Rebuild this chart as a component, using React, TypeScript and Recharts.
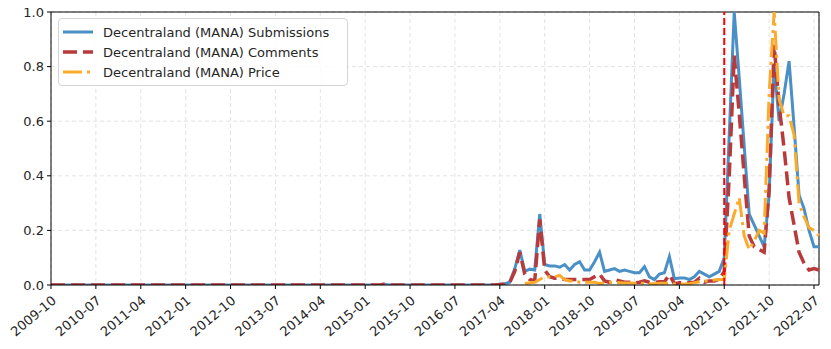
import React from "react";
import {
  LineChart,
  Line,
  XAxis,
  YAxis,
  CartesianGrid,
  ReferenceLine,
} from "recharts";

// monthly index, 0 = 2009-10
const tickMonths = [0, 9, 18, 27, 36, 45, 54, 63, 72, 81, 90, 99, 108, 117, 126, 135, 144, 153];
const tickLabels = [
  "2009-10", "2010-07", "2011-04", "2012-01", "2012-10", "2013-07", "2014-04", "2015-01", "2015-10",
  "2016-07", "2017-04", "2018-01", "2018-10", "2019-07", "2020-04", "2021-01", "2021-10", "2022-07",
];
const yTicks = [0, 0.2, 0.4, 0.6, 0.8, 1.0];

// 2009-10 .. 2022-08 (155 months)
const submissions = [
  0, 0, 0, 0, 0, 0, 0, 0, 0, 0, 0, 0, 0, 0, 0, 0, 0, 0,
  0, 0, 0, 0, 0, 0, 0, 0, 0, 0, 0, 0, 0, 0, 0, 0, 0, 0,
  0, 0, 0, 0, 0, 0, 0, 0, 0, 0, 0, 0, 0, 0, 0, 0, 0, 0,
  0, 0, 0, 0, 0, 0, 0, 0, 0, 0, 0, 0, 0, 0.002, 0, 0, 0, 0,
  0, 0, 0, 0, 0, 0, 0, 0, 0, 0, 0, 0, 0, 0, 0, 0, 0, 0,
  0.003, 0.005, 0.01, 0.06, 0.128, 0.05, 0.058, 0.055, 0.26, 0.075, 0.07, 0.07, 0.065, 0.075, 0.055, 0.075, 0.085, 0.055,
  0.055, 0.085, 0.12, 0.05, 0.055, 0.06, 0.05, 0.055, 0.05, 0.045, 0.045, 0.067, 0.03, 0.02, 0.04, 0.045, 0.104, 0.023,
  0.026, 0.026, 0.02, 0.03, 0.05, 0.04, 0.03, 0.04, 0.05, 0.1, 0.55, 1.0, 0.76, 0.51, 0.26, 0.22, 0.18, 0.14,
  0.33, 0.81, 0.6, 0.7, 0.82, 0.58, 0.33, 0.28, 0.2, 0.14, 0.14,
];

const comments = [
  0, 0, 0, 0, 0, 0, 0, 0, 0, 0, 0, 0, 0, 0, 0, 0, 0, 0,
  0, 0, 0, 0, 0, 0, 0, 0, 0, 0, 0, 0, 0, 0, 0, 0, 0, 0,
  0, 0, 0, 0, 0, 0, 0, 0, 0, 0, 0, 0, 0, 0, 0, 0, 0, 0,
  0, 0, 0, 0, 0, 0, 0, 0, 0, 0, 0, 0, 0, 0.004, 0, 0, 0, 0,
  0, 0, 0, 0, 0, 0, 0, 0, 0, 0, 0, 0, 0, 0, 0, 0, 0, 0,
  0.002, 0.003, 0.01, 0.05, 0.12, 0.04, 0.02, 0.015, 0.24, 0.055, 0.03, 0.025, 0.025, 0.02, 0.02, 0.02, 0.02, 0.02,
  0.02, 0.03, 0.04, 0.015, 0.01, 0.02, 0.015, 0.01, 0.01, 0.008, 0.01, 0.015, 0.01, 0.01, 0.012, 0.012, 0.037, 0.005,
  0.008, 0.008, 0.008, 0.01, 0.025, 0.01, 0.015, 0.015, 0.02, 0.05, 0.4, 0.84, 0.63, 0.4, 0.18, 0.14, 0.13, 0.12,
  0.35, 0.88, 0.66, 0.5, 0.32, 0.22, 0.12, 0.08, 0.055, 0.06, 0.055,
];

const N = null;
const price = [
  N, N, N, N, N, N, N, N, N, N, N, N, N, N, N, N, N, N,
  N, N, N, N, N, N, N, N, N, N, N, N, N, N, N, N, N, N,
  N, N, N, N, N, N, N, N, N, N, N, N, N, N, N, N, N, N,
  N, N, N, N, N, N, N, N, N, N, N, N, N, N, N, N, N, N,
  N, N, N, N, N, N, N, N, N, N, N, N, N, N, N, N, N, N,
  N, N, N, N, N, 0.005, 0.008, 0.01, 0.02, 0.03, 0.03, 0.03, 0.035, 0.02, 0.015, 0.015, 0.01, 0.01,
  0.01, 0.01, 0.006, 0.006, 0.01, 0.008, 0.008, 0.007, 0.007, 0.006, 0.006, 0.006, 0.005, 0.005, 0.006, 0.006, 0.006, 0.004,
  0.003, 0.004, 0.005, 0.008, 0.012, 0.015, 0.015, 0.018, 0.02, 0.02, 0.2, 0.26, 0.32, 0.18, 0.13, 0.16, 0.2, 0.19,
  0.7, 1.0, 0.68, 0.62, 0.62, 0.55, 0.3, 0.25, 0.21, 0.2, 0.18,
];

const data = submissions.map((v, i) => ({
  m: i,
  submissions: v,
  comments: comments[i],
  price: price[i],
}));

const FONT = "'DejaVu Sans', sans-serif";
const TEXT = "#262626";

const series = [
  { name: "Decentraland (MANA) Submissions", color: "#4a90c6", dash: undefined, width: 3 },
  { name: "Decentraland (MANA) Comments", color: "#b83a3a", dash: "14 6", width: 3.5 },
  { name: "Decentraland (MANA) Price", color: "#fbab2c", dash: "19 5 3 5", width: 3 },
];

const XTick = (props: any) => {
  const { x, y, payload } = props;
  const idx = tickMonths.indexOf(payload.value);
  return (
    <g transform={`translate(${x + 6},${y + 11})`}>
      <text
        textAnchor="end"
        transform="rotate(-40)"
        fontFamily={FONT}
        fontSize={13}
        fill={TEXT}
      >
        {tickLabels[idx]}
      </text>
    </g>
  );
};

const LegendBox = () => (
  <div
    style={{
      position: "absolute",
      left: 58,
      top: 18,
      border: "1px solid #d4d4d4",
      borderRadius: 4,
      background: "rgba(255,255,255,0.85)",
      padding: "3px 8px 3px 4px",
      fontFamily: FONT,
      fontSize: 13,
      color: TEXT,
      width: 276,
      boxSizing: "content-box",
    }}
  >
    {series.map((s) => (
      <div key={s.name} style={{ display: "flex", alignItems: "center", height: 20 }}>
        <svg width={40} height={20} style={{ flex: "none" }}>
          <line
            x1={0}
            x2={30}
            y1={10}
            y2={10}
            stroke={s.color}
            strokeWidth={s.width}
            strokeDasharray={s.dash}
          />
        </svg>
        <span style={{ whiteSpace: "nowrap" }}>{s.name}</span>
      </div>
    ))}
  </div>
);

export default function App() {
  return (
    <div style={{ position: "absolute", left: 0, top: 0, width: 831, height: 349, background: "#fff" }}>
      <LineChart
        width={831}
        height={349}
        data={data}
        margin={{ top: 12, right: 12, bottom: 0, left: 0 }}
      >
        <CartesianGrid stroke="#e3e3e3" strokeDasharray="4 3" />
        <XAxis
          dataKey="m"
          type="number"
          domain={[0, 154]}
          ticks={tickMonths}
          interval={0}
          height={64}
          tick={<XTick />}
          tickSize={4}
          axisLine={{ stroke: "#000" }}
          tickLine={{ stroke: "#000" }}
        />
        <YAxis
          type="number"
          domain={[0, 1]}
          ticks={yTicks}
          width={51}
          tickSize={4}
          tickMargin={3}
          tickFormatter={(v: number) => v.toFixed(1)}
          tick={{ fontFamily: FONT, fontSize: 13, fill: TEXT }}
          axisLine={{ stroke: "#000" }}
          tickLine={{ stroke: "#000" }}
          allowDataOverflow
        />
        <ReferenceLine y={1} stroke="#000" strokeWidth={1} />
        <ReferenceLine x={154} stroke="#000" strokeWidth={1} />
        <Line
          dataKey="submissions"
          stroke={series[0].color}
          strokeWidth={series[0].width}
          dot={false}
          activeDot={false}
          isAnimationActive={false}
        />
        <Line
          dataKey="comments"
          stroke={series[1].color}
          strokeWidth={series[1].width}
          strokeDasharray={series[1].dash}
          dot={false}
          activeDot={false}
          isAnimationActive={false}
        />
        <Line
          dataKey="price"
          stroke={series[2].color}
          strokeWidth={series[2].width}
          strokeDasharray={series[2].dash}
          dot={false}
          activeDot={false}
          connectNulls={false}
          isAnimationActive={false}
        />
        <ReferenceLine x={135} stroke="#ff0000" strokeWidth={2} strokeDasharray="7 3" />
      </LineChart>
      <LegendBox />
    </div>
  );
}
